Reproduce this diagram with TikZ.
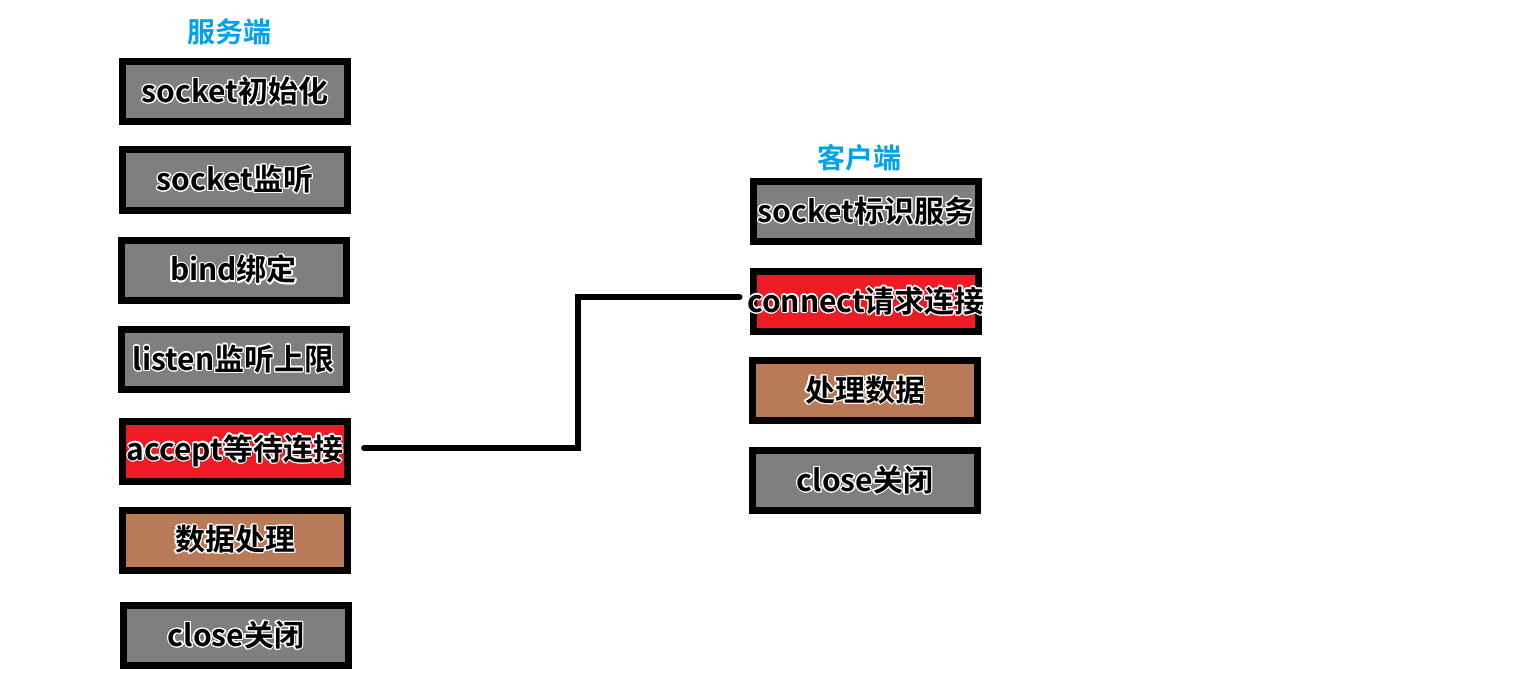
\documentclass[tikz,border=0pt]{standalone}
\usepackage{fontspec}
\setmainfont{Noto Sans CJK SC}[BoldFont={* Bold}]
\usepackage[copies]{contour}
\contourlength{1.2pt}
\contournumber{16}
\definecolor{boxgray}{HTML}{7F7F7F}
\definecolor{boxred}{HTML}{ED1C24}
\definecolor{boxbrown}{HTML}{B97A57}
\definecolor{titleblue}{HTML}{00A2E8}
\newcommand\outl[1]{\makebox[0pt]{\contour{white}{#1}}}
\tikzset{
  x=1pt, y=-1pt,
  stepbox/.style={draw=black, line width=7pt, inner sep=0pt,
    minimum width=225pt, minimum height=60pt,
    font=\fontsize{30}{31}\selectfont\bfseries, text=black},
  gbox/.style={stepbox, fill=boxgray},
  rbox/.style={stepbox, fill=boxred},
  bbox/.style={stepbox, fill=boxbrown},
  ttl/.style={inner sep=0pt, text=titleblue, font=\fontsize{28}{30}\selectfont\bfseries},
  wire/.style={line width=6pt}
}
\begin{document}
\begin{tikzpicture}
\useasboundingbox (0,0) rectangle (1525,687);
% server
\node[ttl] (st) at (229,32) {服务端};
\node[gbox] (s1) at (235,91.5) {\outl{socket初始化}};
\node[gbox] (s2) at (235,180) {\outl{socket监听}};
\node[gbox] (s3) at (233.5,270) {\outl{bind绑定}};
\node[gbox] (s4) at (233.5,359.5) {\outl{listen监听上限}};
\node[rbox] (s5) at (235,451) {\outl{accept等待连接}};
\node[bbox] (s6) at (235,540) {\outl{数据处理}};
\node[gbox] (s7) at (236,635.5) {\outl{close关闭}};
% client
\node[ttl] (ct) at (859,158) {客户端};
\node[gbox] (c1) at (866,211.5) {\outl{socket标识服务}};
\node[rbox] (c2) at (866,301.5) {\outl{connect请求连接}};
\node[bbox] (c3) at (865,390.5) {\outl{处理数据}};
\node[gbox] (c4) at (865,480.5) {\outl{close关闭}};
% connector
\coordinate (a) at ([xshift=13pt,yshift=3pt]s5.east);
\coordinate (b) at ([xshift=-10.5pt,yshift=4.5pt]c2.west);
\draw[wire, line cap=round] (a) -- (578,448) -- (578,297) -- (b);
\end{tikzpicture}
\end{document}
